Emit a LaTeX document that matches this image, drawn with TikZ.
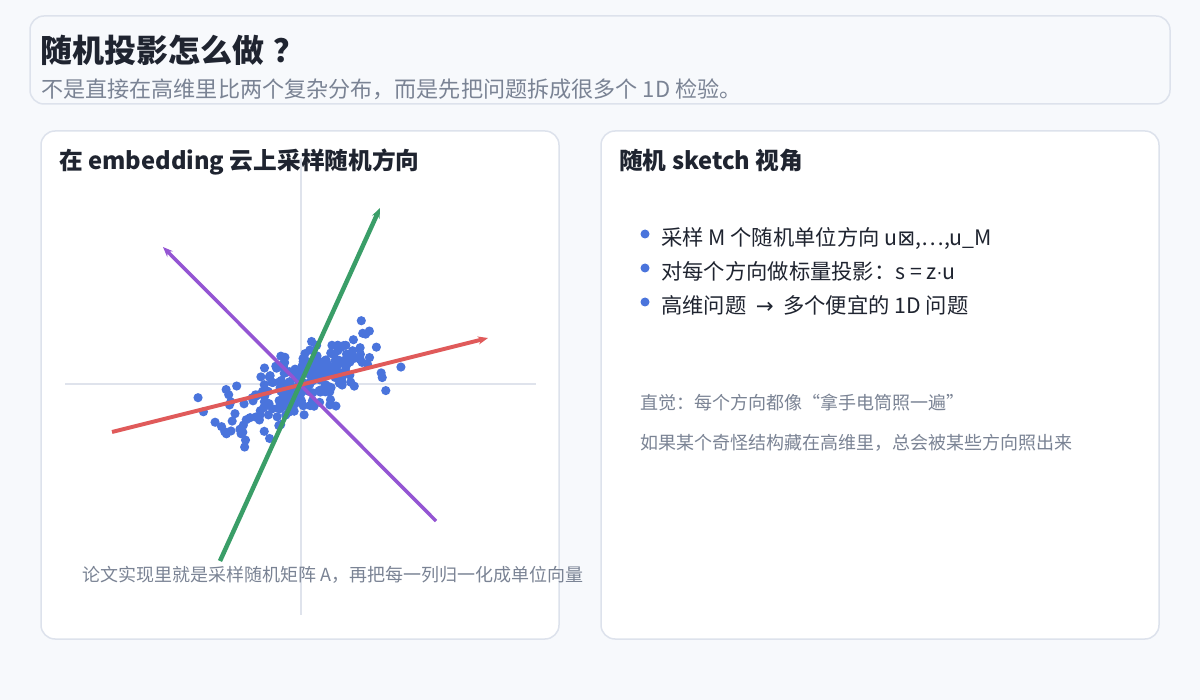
\documentclass[tikz,border=0pt]{standalone}
\usepackage{fontspec}
\setmainfont{Noto Sans CJK SC}
\newfontfamily\symfont{DejaVu Sans}
\usepackage{tikz}
\usetikzlibrary{positioning, arrows.meta}

\definecolor{pagebg}{HTML}{F7F9FC}
\definecolor{panelline}{HTML}{DDE2EC}
\definecolor{inktext}{HTML}{1F2430}
\definecolor{greytext}{HTML}{7A8394}
\definecolor{axisgrey}{HTML}{DFE3EC}
\definecolor{dotblue}{HTML}{4A74DC}
\definecolor{dirred}{HTML}{E05A5A}
\definecolor{dirgreen}{HTML}{3A9E68}
\definecolor{dirpurple}{HTML}{9455D3}

\begin{document}
\begin{tikzpicture}[x=1pt, y=-1pt]
    \tikzstyle{every node}=[inner sep=0pt, anchor=base west, text=inktext]
    \tikzset{
      panel/.style={draw=panelline, line width=1.5pt, fill=white, rounded corners=14pt},
      headbox/.style={draw=panelline, line width=1.5pt, fill=pagebg, rounded corners=14pt},
      heading/.style={font=\fontsize{23.7}{27}\selectfont\bfseries},
      bullettext/.style={font=\fontsize{21.3}{25}\selectfont},
      note/.style={font=\fontsize{18}{22}\selectfont, text=greytext},
      axisline/.style={draw=axisgrey, line width=1.5pt},
      dir/.style={line width=#1, -{Stealth[length=10pt, width=8pt]}},
      dot/.style={fill=dotblue}
    }
    % canvas
    \fill[pagebg] (0,0) rectangle (1200,700);

    % header
    \draw[headbox] (30,16) rectangle (1170,104);
    \node[font=\fontsize{32}{36}\selectfont\bfseries] (title) at (40,63) {随机投影怎么做\hspace{0.3em}？};
    \node[font=\fontsize{22.1}{26}\selectfont, text=greytext] (subtitle) at (41,98)
      {不是直接在高维里比两个复杂分布，而是先把问题拆成很多个 1D 检验。};

    % left panel
    \draw[panel] (41,131) rectangle (559,639);
    \node[heading] (lefthead) at (59,170) {在 embedding 云上采样随机方向};

    \coordinate (origin) at (301,384);
    \coordinate (xleft) at (65,384);
    \coordinate (xright) at (536,384);
    \coordinate (ytop) at (301,158);
    \coordinate (ybottom) at (301,615);
    \draw[axisline] (xleft) -- (xright);
    \draw[axisline] (ytop) -- (ybottom);

    % point cloud
    \pgfmathsetseed{1234}
    \foreach \i in {1,...,250}{
      \pgfmathsetmacro{\ga}{41*(rand+rand+rand)}
      \pgfmathsetmacro{\gb}{16*(rand+rand+rand)}
      \pgfmathsetmacro{\px}{301 + 0.88*\ga + 0.47*\gb}
      \pgfmathsetmacro{\py}{384 - 0.47*\ga + 0.88*\gb}
      \fill[dot] (\px,\py) circle (4.6);
    }

    % random directions
    \coordinate (redtail) at (112,432);
    \coordinate (redhead) at (488,338);
    \coordinate (greentail) at (220,561);
    \coordinate (greenhead) at (380,208);
    \coordinate (purpletail) at (436,521);
    \coordinate (purplehead) at (163,247);
    \draw[dir=3.5pt, dirpurple] (purpletail) -- (purplehead);
    \draw[dir=4pt, dirred] (redtail) -- (redhead);
    \draw[dir=4.5pt, dirgreen] (greentail) -- (greenhead);

    \node[note] (caption) at (82,581) {论文实现里就是采样随机矩阵 A，再把每一列归一化成单位向量};

    % right panel
    \draw[panel] (601,131) rectangle (1159,639);
    \node[heading] (righthead) at (619,170) {随机 sketch 视角};

    \node[bullettext] (b1) at (661,246)
      {采样 M 个随机单位方向 u\makebox[0.85em]{\symfont\fontsize{21}{24}\selectfont ⊠},…,u\_M};
    \node[bullettext] (b2) at (661,280) {对每个方向做标量投影：s = z{\symfont\fontsize{17}{20}\selectfont ·}u};
    \node[bullettext] (b3) at (661,314) {高维问题 \ {\symfont →} \ 多个便宜的 1D 问题};
    \foreach \b/\y in {b1/234, b2/268, b3/302}
      \fill[dot] (645,\y) circle (4.5);

    \node[note] (hint1) at (640,410) {直觉：每个方向都像“拿手电筒照一遍”};
    \node[note] (hint2) at (640,450) {如果某个奇怪结构藏在高维里，总会被某些方向照出来};
  \end{tikzpicture}
\end{document}
